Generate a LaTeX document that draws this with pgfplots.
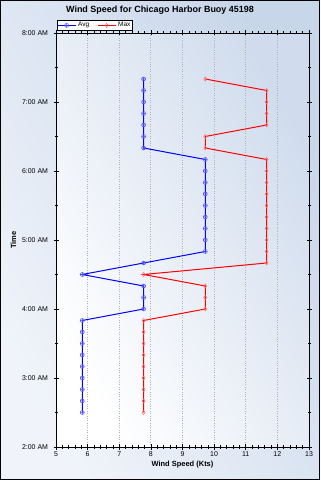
\documentclass[border=0pt]{standalone}
\usepackage{pgfplots}
\pgfplotsset{compat=1.18}
\usepackage{pgfplotstable}
\usepackage{fontspec}
\setmainfont{Liberation Sans}
\setsansfont{Liberation Sans}
\definecolor{bgLight}{RGB}{240,244,250}
\definecolor{bgDark}{RGB}{200,214,234}
\definecolor{plotDark}{RGB}{208,220,237}
\pgfplotstableread{
t avg max
150 5.83 7.77
160 5.83 7.77
170 5.83 7.77
180 5.83 7.77
190 5.83 7.77
200 5.83 7.77
210 5.83 7.77
220 5.83 7.77
230 5.83 7.77
240 7.77 9.72
250 7.77 9.72
260 7.77 9.72
270 5.83 7.77
280 7.77 11.66
290 9.72 11.66
300 9.72 11.66
310 9.72 11.66
320 9.72 11.66
330 9.72 11.66
340 9.72 11.66
350 9.72 11.66
360 9.72 11.66
370 9.72 11.66
380 7.77 9.72
390 7.77 9.72
400 7.77 11.66
410 7.77 11.66
420 7.77 11.66
430 7.77 11.66
440 7.77 9.72
}\datatable
\begin{document}
\begin{tikzpicture}[x=1bp,y=1bp]
\path[use as bounding box] (0,0) rectangle (320,480);
\shade[left color=bgLight, right color=bgDark, shading angle=120] (0,0) rectangle (320,480);
\draw[black, line width=1bp] (0.5,0.5) rectangle (319.5,479.5);
\node[font=\bfseries\fontsize{9}{10}\selectfont] at (160,469.5) {Wind Speed for Chicago Harbor Buoy 45198};
\begin{axis}[
  at={(56bp,33bp)}, anchor=south west,
  scale only axis, width=253bp, height=414bp,
  xmin=5, xmax=13, ymin=120, ymax=480,
  xtick={5,...,13},
  minor x tick num=4,
  ytick={120,180,240,300,360,420,480},
  yticklabels={2:00 AM,3:00 AM,4:00 AM,5:00 AM,6:00 AM,7:00 AM,8:00 AM},
  minor ytick={150,210,270,330,390,450},
  tick align=center,
  major tick length=5bp, minor tick length=3bp,
  tick style={black, line width=0.6bp},
  axis line style={black, line width=0.8bp},
  xmajorgrids, major x grid style={gray!60, dotted, line width=0.8bp},
  /pgf/number format/assume math mode=true,
  ticklabel style={font=\fontsize{7}{8}\selectfont},
  xticklabel style={yshift=1bp},
  yticklabel style={xshift=-2bp},
  xlabel={\bfseries Wind Speed (Kts)},
  ylabel={\bfseries Time},
  label style={font=\fontsize{7.5}{8}\selectfont},
  xlabel style={yshift=3bp},
  ylabel style={yshift=-1bp},
  axis background/.style={left color=white, right color=plotDark, shading angle=120},
  legend style={at={(0,1)}, anchor=south west, yshift=2bp, xshift=0.5bp,
    legend columns=2, draw=black, fill=white, line width=0.6bp,
    inner sep=0.3bp, font=\fontsize{6.5}{6.5}\selectfont,
    /tikz/every even column/.append style={column sep=6bp}},
  legend image code/.code={\draw[#1] (0bp,0bp) -- (18bp,0bp); \draw[#1, mark repeat=2, mark phase=2] plot coordinates {(0bp,0bp) (9bp,0bp) (18bp,0bp)};},
]
\addplot[blue, line width=1bp, mark=oplus, mark size=2bp, mark options={solid, blue!70, line width=0.5bp}] table[x=avg, y=t] {\datatable};
\addlegendentry{Avg}
\addplot[red, line width=1bp, mark=diamond, mark size=2bp, mark options={solid, red!60, line width=0.5bp}] table[x=max, y=t] {\datatable};
\addlegendentry{Max}
\end{axis}
\end{tikzpicture}
\end{document}
